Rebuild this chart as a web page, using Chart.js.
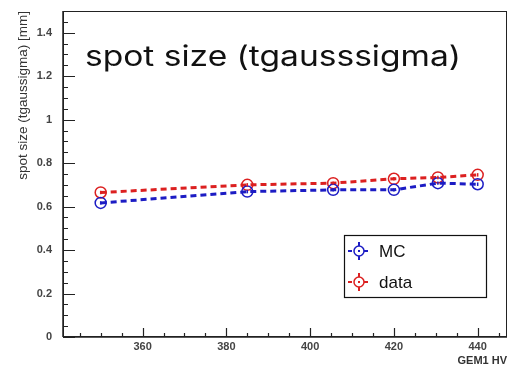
<!DOCTYPE html>
<html>
<head>
<meta charset="utf-8">
<script src="https://cdn.jsdelivr.net/npm/chart.js@4/dist/chart.umd.min.js"></script>
<style>
  html, body { margin: 0; padding: 0; background: #fff; }
  #wrap { width: 514px; height: 368px; position: relative; }
</style>
</head>
<body>
<div id="wrap"><canvas id="plot"></canvas></div>
<script>
const hv = [350, 385, 405.5, 420, 430.5, 440];
const mc = [0.617, 0.669, 0.677, 0.677, 0.708, 0.703];
const mcErr = [0.008, 0.008, 0.008, 0.008, 0.008, 0.008];
const dat = [0.665, 0.700, 0.708, 0.728, 0.734, 0.746];
const datErr = [0.008, 0.008, 0.008, 0.008, 0.008, 0.008];

const xTicks = [360, 380, 400, 420, 440];
const yTicks = [0, 0.2, 0.4, 0.6, 0.8, 1, 1.2, 1.4];

const blue = '#1c1cc4';
const red = '#dc2020';

function pts(xs, ys) {
    return xs.map((x, i) => ({ x: x, y: ys[i] }));
}

// frame, minor/major ticks, error bars, title, legend
const rootStyle = {
    id: 'rootStyle',
    afterDatasetsDraw(chart) {
        const ctx = chart.ctx;
        const a = chart.chartArea;
        const xs = chart.scales.x;
        const ys = chart.scales.y;
        ctx.save();

        // error bars
        ctx.lineWidth = 1.5;
        [[mc, mcErr, blue], [dat, datErr, red]].forEach(([vals, errs, col]) => {
            ctx.strokeStyle = col;
            vals.forEach((v, i) => {
                const px = xs.getPixelForValue(hv[i]);
                ctx.beginPath();
                ctx.moveTo(px, ys.getPixelForValue(v - errs[i]));
                ctx.lineTo(px, ys.getPixelForValue(v + errs[i]));
                ctx.stroke();
            });
        });

        // frame
        ctx.strokeStyle = '#222';
        ctx.lineWidth = 1;
        ctx.strokeRect(a.left + 0.5, a.top + 0.5, a.right - a.left - 1, a.bottom - a.top - 1);
        ctx.lineWidth = 1.5;
        ctx.beginPath();
        ctx.moveTo(a.left, a.bottom); ctx.lineTo(a.right, a.bottom);
        ctx.moveTo(a.left, a.top); ctx.lineTo(a.left, a.bottom);
        ctx.stroke();

        // x ticks
        ctx.lineWidth = 1.2;
        ctx.beginPath();
        for (let v = 345; v <= xs.max; v += 5) {
            const px = Math.round(xs.getPixelForValue(v)) + 0.5;
            const len = v % 20 === 0 ? 9 : 4;
            ctx.moveTo(px, a.bottom);
            ctx.lineTo(px, a.bottom - len);
        }
        // y ticks
        for (let k = 0; k <= 30; k++) {
            const v = k * 0.05;
            const py = Math.round(ys.getPixelForValue(v)) + 0.5;
            const len = k % 4 === 0 ? 12 : 5;
            ctx.moveTo(a.left, py);
            ctx.lineTo(a.left + len, py);
        }
        ctx.stroke();

        // big title, stretched to the width it has in the slide
        const title = 'spot size (tgausssigma)';
        ctx.fillStyle = '#111';
        ctx.font = '28px Inter';
        ctx.textBaseline = 'alphabetic';
        ctx.textAlign = 'left';
        const w = ctx.measureText(title).width;
        ctx.save();
        ctx.translate(85, 66);
        ctx.scale(376 / w, 1);
        ctx.fillText(title, 0, 0);
        ctx.restore();

        // legend
        const lx = 344, ly = 235, lw = 142, lh = 62;
        ctx.fillStyle = '#fff';
        ctx.fillRect(lx, ly, lw, lh);
        ctx.strokeStyle = '#111';
        ctx.lineWidth = 1.2;
        ctx.strokeRect(lx + 0.5, ly + 0.5, lw, lh);
        [['MC', blue, 251], ['data', red, 282]].forEach(([name, col, cy]) => {
            const cx = 359;
            ctx.strokeStyle = col;
            ctx.lineWidth = 1.5;
            ctx.beginPath();
            ctx.arc(cx, cy, 5, 0, Math.PI * 2);
            ctx.stroke();
            ctx.lineWidth = 2;
            ctx.beginPath();
            ctx.moveTo(cx - 11, cy); ctx.lineTo(cx - 7, cy);
            ctx.moveTo(cx + 5, cy); ctx.lineTo(cx + 9, cy);
            ctx.moveTo(cx, cy - 9); ctx.lineTo(cx, cy - 5);
            ctx.moveTo(cx, cy + 5); ctx.lineTo(cx, cy + 9);
            ctx.stroke();
            ctx.fillStyle = col;
            ctx.fillRect(cx - 1, cy - 1, 2, 2);
            ctx.fillStyle = '#111';
            ctx.font = '17px "Liberation Sans"';
            ctx.textBaseline = 'middle';
            ctx.fillText(name, 379, cy + 1);
        });

        ctx.restore();
    }
};

const data = {
    datasets: [{
        label: 'MC',
        data: pts(hv, mc),
        borderColor: blue,
        backgroundColor: 'rgba(0,0,0,0)',
        borderWidth: 3,
        borderDash: [6, 4],
        pointRadius: 5.5,
        pointBorderWidth: 1.5,
        pointBorderColor: blue,
        pointBackgroundColor: 'rgba(0,0,0,0)',
        tension: 0
    },
    {
        label: 'data',
        data: pts(hv, dat),
        borderColor: red,
        backgroundColor: 'rgba(0,0,0,0)',
        borderWidth: 3,
        borderDash: [6, 4],
        pointRadius: 5.5,
        pointBorderWidth: 1.5,
        pointBorderColor: red,
        pointBackgroundColor: 'rgba(0,0,0,0)',
        tension: 0
    }]
};

const tickFont = { family: '"Liberation Sans", Arial, sans-serif', size: 11, weight: 'bold' };

const config = {
    type: 'line',
    data: data,
    options: {
        responsive: false,
        animation: false,
        devicePixelRatio: 1,
        layout: { padding: { top: 11, right: 7, left: 0, bottom: 0 } },
        plugins: {
            legend: { display: false },
            tooltip: { enabled: false }
        },
        scales: {
            x: {
                type: 'linear',
                min: 341,
                max: 447,
                afterBuildTicks: (s) => { s.ticks = xTicks.map(v => ({ value: v })); },
                afterFit: (s) => { s.height = 31; },
                grid: { display: true, drawOnChartArea: false, drawTicks: false },
                border: { display: false },
                ticks: { color: '#444', font: tickFont, padding: 3, maxRotation: 0 },
                title: {
                    display: true, text: 'GEM1 HV', align: 'end',
                    color: '#333', font: { family: '"Liberation Sans", Arial', size: 11, weight: 'bold' },
                    padding: { top: 0, bottom: 0 }
                }
            },
            y: {
                type: 'linear',
                min: 0,
                max: 1.5,
                afterBuildTicks: (s) => { s.ticks = yTicks.map(v => ({ value: v })); },
                afterFit: (s) => { s.width = 63; s.paddingTop = 0; s.paddingBottom = 0; },
                grid: { display: true, drawOnChartArea: false, drawTicks: false },
                border: { display: false },
                ticks: {
                    color: '#444', font: tickFont, padding: 11,
                    callback: (v) => String(Math.round(v * 10) / 10)
                },
                title: {
                    display: true, text: 'spot size (tgaussigma) [mm]', align: 'end',
                    color: '#333', font: { family: '"Liberation Sans", Arial', size: 13.5 },
                    padding: { top: 15, bottom: 0 }
                }
            }
        }
    },
    plugins: [rootStyle]
};

const canvas = document.getElementById('plot');
canvas.width = 514;
canvas.height = 368;
const plot = new Chart(canvas, config);
</script>
</body>
</html>
